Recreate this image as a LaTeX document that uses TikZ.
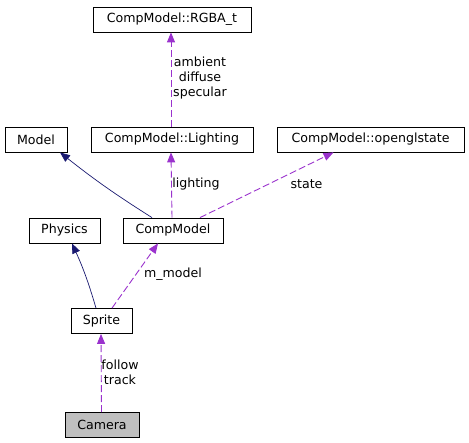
\documentclass[tikz,border=0pt]{standalone}
\usepackage{fontspec}
\setmainfont{DejaVu Sans}
\usepackage{tikz}
\usetikzlibrary{positioning,arrows.meta}
\definecolor{inhcol}{RGB}{25,25,112}
\definecolor{usecol}{RGB}{154,50,205}
\definecolor{thiscol}{RGB}{191,191,191}
\tikzset{
  % --- classes -----------------------------------------------------------------
  cls/.style={rectangle,draw=black,fill=white,line width=0.8pt,inner sep=0pt,
              minimum height=25pt,font=\fontsize{12.6}{15}\selectfont},
  clsthis/.style={cls,fill=thiscol},
  % --- relations ---------------------------------------------------------------
  inh/.style={-{Triangle[length=10pt,width=8pt]},inhcol,line width=0.7pt},
  use/.style={-{Triangle[length=10pt,width=8pt]},usecol,line width=0.9pt,
              dash pattern=on 7pt off 3pt},
  rlab/.style={font=\fontsize{12.6}{15}\selectfont,align=center,inner sep=0pt},
}
\begin{document}
\begin{tikzpicture}[x=1pt, y=-1pt]
  \useasboundingbox (0,0) rectangle (469,443);

  \node[cls, minimum width=158pt] (rgba)  at (172,19.5)  {CompModel::RGBA\_t};
  \node[cls, minimum width=62pt]  (model) at (36,139.5)  {Model};
  \node[cls, minimum width=162pt] (light) at (172,139.5) {CompModel::Lighting};
  \node[cls, minimum width=187pt] (gl)    at (370.5,139.5) {CompModel::openglstate};
  \node[cls, minimum width=71pt]  (phys)  at (64.5,230.5) {Physics};
  \node[cls, minimum width=100pt] (comp)  at (173,230.5) {CompModel};
  \node[cls, minimum width=61pt]  (spr)   at (101.5,321) {Sprite};
  \node[clsthis, minimum width=74pt] (cam) at (102,425) {Camera};

  \draw[use] ([xshift=-1pt]light.north) -- ([xshift=-1pt]rgba.south);
  \draw[inh] ([xshift=-21pt]comp.north) to[bend left=3] ([xshift=24pt]model.south);
  \draw[use] ([xshift=-1pt]comp.north) -- ([xshift=-1pt]light.south);
  \draw[use] ([xshift=27pt]comp.north) -- ([xshift=-37pt]gl.south);
  \draw[inh] ([xshift=-5.5pt]spr.north) to[bend right=4] ([xshift=7.5pt]phys.south);
  \draw[use] ([xshift=10.5pt]spr.north) -- ([xshift=-15pt]comp.south);
  \draw[use] ([xshift=-0.5pt]cam.north) -- ([xshift=-0.5pt]spr.south);

  \node[rlab] (lrgba)  at (200,78)  {ambient\\diffuse\\specular};
  \node[rlab] (llight) at (196,184) {lighting};
  \node[rlab] (lgl)    at (306.5,184) {state};
  \node[rlab] (lcomp)  at (173,274) {m\_model};
  \node[rlab] (lspr)   at (120,372) {follow\\track};
\end{tikzpicture}
\end{document}
